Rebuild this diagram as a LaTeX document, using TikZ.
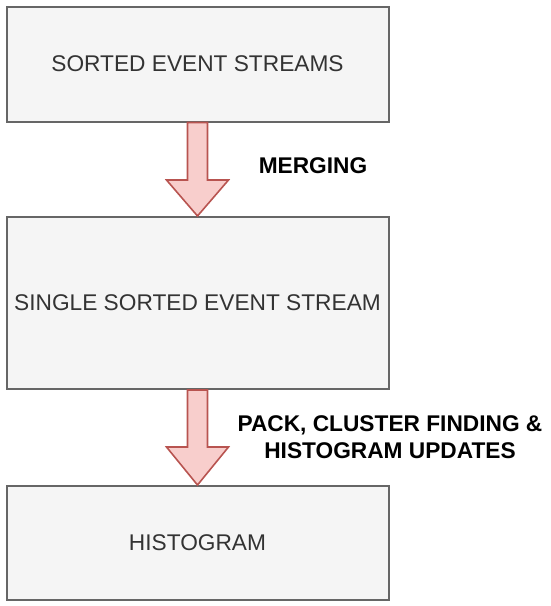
\documentclass[tikz,border=0pt]{standalone}
\usepackage{fontspec}
\setmainfont{Liberation Sans}
\usetikzlibrary{calc}
\definecolor{boxfill}{HTML}{F5F5F5}
\definecolor{boxline}{HTML}{666666}
\definecolor{boxtext}{HTML}{333333}
\definecolor{arrfill}{HTML}{F8CECC}
\definecolor{arrline}{HTML}{B85450}
\tikzset{
  box/.style={draw=boxline, fill=boxfill, line width=2pt, minimum width=382pt,
    inner sep=0pt, text=boxtext, font=\fontsize{22.7pt}{27pt}\selectfont},
  bigarr/.style={draw=arrline, fill=arrfill, line width=1.6pt, line join=miter},
  lbl/.style={text=black, align=center, inner sep=0pt,
    font=\fontsize{22.7pt}{27pt}\selectfont\bfseries}
}
\begin{document}
\begin{tikzpicture}[x=1pt,y=-1pt]
\useasboundingbox (0,0) rectangle (550,606);
\node[box, minimum height=115pt] (b1) at (197.5,64) {SORTED EVENT STREAMS};
\node[box, minimum height=172pt] (b2) at (197.5,303) {SINGLE SORTED EVENT STREAM};
\node[box, minimum height=114pt] (b3) at (197.5,543) {HISTOGRAM};
\draw[bigarr] let \p1=(b1.south), \p2=(b2.north) in
  (\x1-10pt,\y1) -- (\x1+10pt,\y1) -- (\x1+10pt,\y2+36pt) -- (\x1+31pt,\y2+36pt)
  -- (\x1,\y2) -- (\x1-31pt,\y2+36pt) -- (\x1-10pt,\y2+36pt) -- cycle;
\draw[bigarr] let \p1=(b2.south), \p2=(b3.north) in
  (\x1-10pt,\y1) -- (\x1+10pt,\y1) -- (\x1+10pt,\y2+38pt) -- (\x1+31pt,\y2+38pt)
  -- (\x1,\y2) -- (\x1-31pt,\y2+38pt) -- (\x1-10pt,\y2+38pt) -- cycle;
\node[lbl] (l1) at (313,166) {MERGING};
\node[lbl] (l2) at (390,437) {PACK, CLUSTER FINDING \&\\HISTOGRAM UPDATES};
\end{tikzpicture}
\end{document}
